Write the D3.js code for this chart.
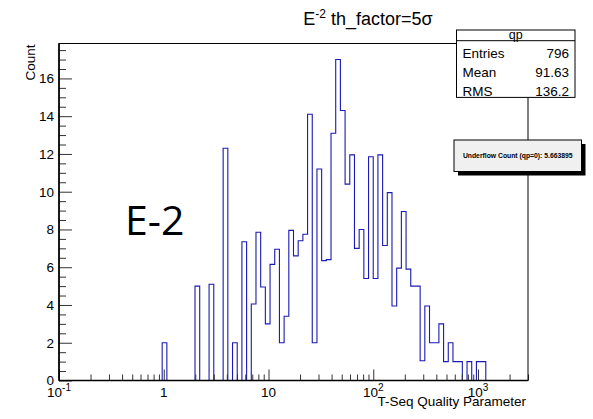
<!DOCTYPE html>
<html><head><meta charset="utf-8">
<script src="https://cdn.jsdelivr.net/npm/d3@7"></script>
<style>
body{margin:0;background:#fff;}
svg{font-family:"Liberation Sans",Arial,Helvetica,sans-serif;}
</style></head>
<body><svg id="c" width="593" height="419"></svg>
<script>
// ---- data ----
const xRange = [0.1, 3000];          // log-binned axis range
const nBins = 100;
const counts = [
 0,0,0,0,0,0,0,0,0,0, 0,0,0,0,0,0,0,0,0,0,
 0,0,2,0,0,0,0,0,0,5, 0,0,5.1,0,0,12.3,0,2,0,7.35,
 0,4.05,7.85,4.95,3,6.15,6.95,2,3.4,7.95, 6.6,7.4,7.75,14.1,2,11.2,6.35,6.4,13.1,17,
 14.3,10.4,11.95,7,8,5.4,11.85,5.4,11.95,7.15, 9.95,3.95,5.95,8.95,5.9,5,5,1.05,3.95,2,
 2,3,1,2,1,1,0,1,0,1, 1,0,0,0,0,0,0,0,0,0
];
const yTicks = [0,2,4,6,8,10,12,14,16];
const xLabels = [
  {v:0.1, base:"10", exp:"-1"},
  {v:1, base:"1", exp:""},
  {v:10, base:"10", exp:""},
  {v:100, base:"10", exp:"2"},
  {v:1000, base:"10", exp:"3"}
];
const statsRows = [["Entries","796"],["Mean","91.63"],["RMS","136.2"]];
const histName = "qp";
const underflowText = "Underflow Count (qp=0): 5.663895";

// ---- drawing ----
const svg = d3.select("#c");
const L=59, R=528, T=43.5, B=380.5;
const x = d3.scaleLog().domain(xRange).range([L,R]);
const yMax = d3.max(counts)*1.05;
const y = d3.scaleLinear().domain([0,yMax]).range([B,T]);

const lmin = Math.log10(xRange[0]), lmax = Math.log10(xRange[1]);
const edges = d3.range(nBins+1).map(i => Math.pow(10, lmin + i*(lmax-lmin)/nBins));

// histogram step path
let p = d3.path();
p.moveTo(x(edges[0]), y(0));
counts.forEach((c,i)=>{
  p.lineTo(x(edges[i]), y(c));
  p.lineTo(x(edges[i+1]), y(c));
});
p.lineTo(x(edges[nBins]), y(0));
svg.append("path").attr("d", p.toString()).attr("fill","none")
  .attr("stroke","#1a1ab4").attr("stroke-width",1.1);

// axes
const allX = x.ticks(40).filter(v=>v>=xRange[0] && v<=xRange[1]);
const isMajor = v => Math.abs(Math.log10(v)-Math.round(Math.log10(v)))<1e-9;
const gxMinor = svg.append("g").attr("transform",`translate(0,${B})`)
  .call(d3.axisBottom(x).tickValues(allX.filter(v=>!isMajor(v))).tickSize(-6).tickFormat(""));
const gxMajor = svg.append("g").attr("transform",`translate(0,${B})`)
  .call(d3.axisBottom(x).tickValues(allX.filter(isMajor)).tickSize(-11).tickFormat(""));
[gxMinor,gxMajor].forEach(g=>{g.select(".domain").remove(); g.selectAll("line").attr("stroke","#333");});

const minorY = d3.range(0, yMax, 0.5).filter(v=>v%2!==0);
const gyMinor = svg.append("g").attr("transform",`translate(${L},0)`)
  .call(d3.axisLeft(y).tickValues(minorY).tickSize(-7).tickFormat(""));
const gyMajor = svg.append("g").attr("transform",`translate(${L},0)`)
  .call(d3.axisLeft(y).tickValues(yTicks).tickSize(-13).tickPadding(5));
[gyMinor,gyMajor].forEach(g=>{g.select(".domain").remove(); g.selectAll("line").attr("stroke","#333");});
gyMajor.attr("font-family",null).attr("font-size",null);
gyMajor.selectAll("text").style("font-size","13.5px").style("font-family","Liberation Sans, Arial, sans-serif").attr("fill","#000");

// frame
svg.append("rect").attr("x",L).attr("y",T).attr("width",R-L).attr("height",B-T)
  .attr("fill","none").attr("stroke","#000").attr("stroke-width",1);
svg.append("line").attr("x1",L).attr("x2",L).attr("y1",T).attr("y2",B).attr("stroke","#000").attr("stroke-width",1.6);
svg.append("line").attr("x1",L).attr("x2",R).attr("y1",B).attr("y2",B).attr("stroke","#000").attr("stroke-width",1.6);

// x labels
const xl = svg.append("g");
xLabels.forEach(d=>{
  const t = xl.append("text").attr("y",397).style("font-size","13.5px").attr("text-anchor","middle")
    .attr("x", x(d.v));
  t.append("tspan").text(d.base);
  if(d.exp) t.append("tspan").attr("dy",-6).style("font-size","10px").text(d.exp);
});

// axis titles
svg.append("text").attr("x",R-2).attr("y",406).attr("text-anchor","end").style("font-size","13.5px").text("T-Seq Quality Parameter");
svg.append("text").attr("transform",`translate(35,${T+1}) rotate(-90)`).attr("text-anchor","end").style("font-size","13.5px").text("Count");

// title
const tt = svg.append("text").attr("x",368).attr("y",25).attr("text-anchor","middle").style("font-size","18px");
tt.append("tspan").text("E");
tt.append("tspan").attr("dy",-7).style("font-size","12px").text("-2");
tt.append("tspan").attr("dy",7).text(" th_factor=5σ");

// big label
svg.append("text").attr("x",125).attr("y",234.5)
  .style("font-family","'Open Sans', sans-serif").style("font-size","41px").attr("fill","#000").text("E-2");

// stats box
const sx0=456.5, sx1=575, sy0=30, rowH=18.9, sy1=40.7;
svg.append("rect").attr("x",sx0).attr("y",sy0).attr("width",sx1-sx0).attr("height",sy1+3*rowH-sy0)
  .attr("fill","#fff").attr("stroke","#000").attr("stroke-width",1);
svg.append("line").attr("x1",sx0).attr("x2",sx1).attr("y1",sy1).attr("y2",sy1).attr("stroke","#000");
svg.append("text").attr("x",(sx0+sx1)/2).attr("y",38.5).attr("text-anchor","middle").style("font-size","12.5px").text(histName);
statsRows.forEach((r,i)=>{
  const by = sy1 + (i+1)*rowH - 1.5;
  svg.append("text").attr("x",sx0+6).attr("y",by).style("font-size","13.5px").text(r[0]);
  svg.append("text").attr("x",sx1-6).attr("y",by).attr("text-anchor","end").style("font-size","13.5px").text(r[1]);
});

// underflow box
const ux0=454, ux1=581.5, uy0=140, uy1=171.5;
svg.append("rect").attr("x",ux0+4).attr("y",uy0+4).attr("width",ux1-ux0).attr("height",uy1-uy0).attr("fill","#000");
svg.append("rect").attr("x",ux0).attr("y",uy0).attr("width",ux1-ux0).attr("height",uy1-uy0)
  .attr("fill","#f0f0f0").attr("stroke","#000").attr("stroke-width",1);
svg.append("text").attr("x",(ux0+ux1)/2).attr("y",158).attr("text-anchor","middle")
  .style("font-size","6.8px").style("font-weight","bold").text(underflowText);
</script></body></html>
